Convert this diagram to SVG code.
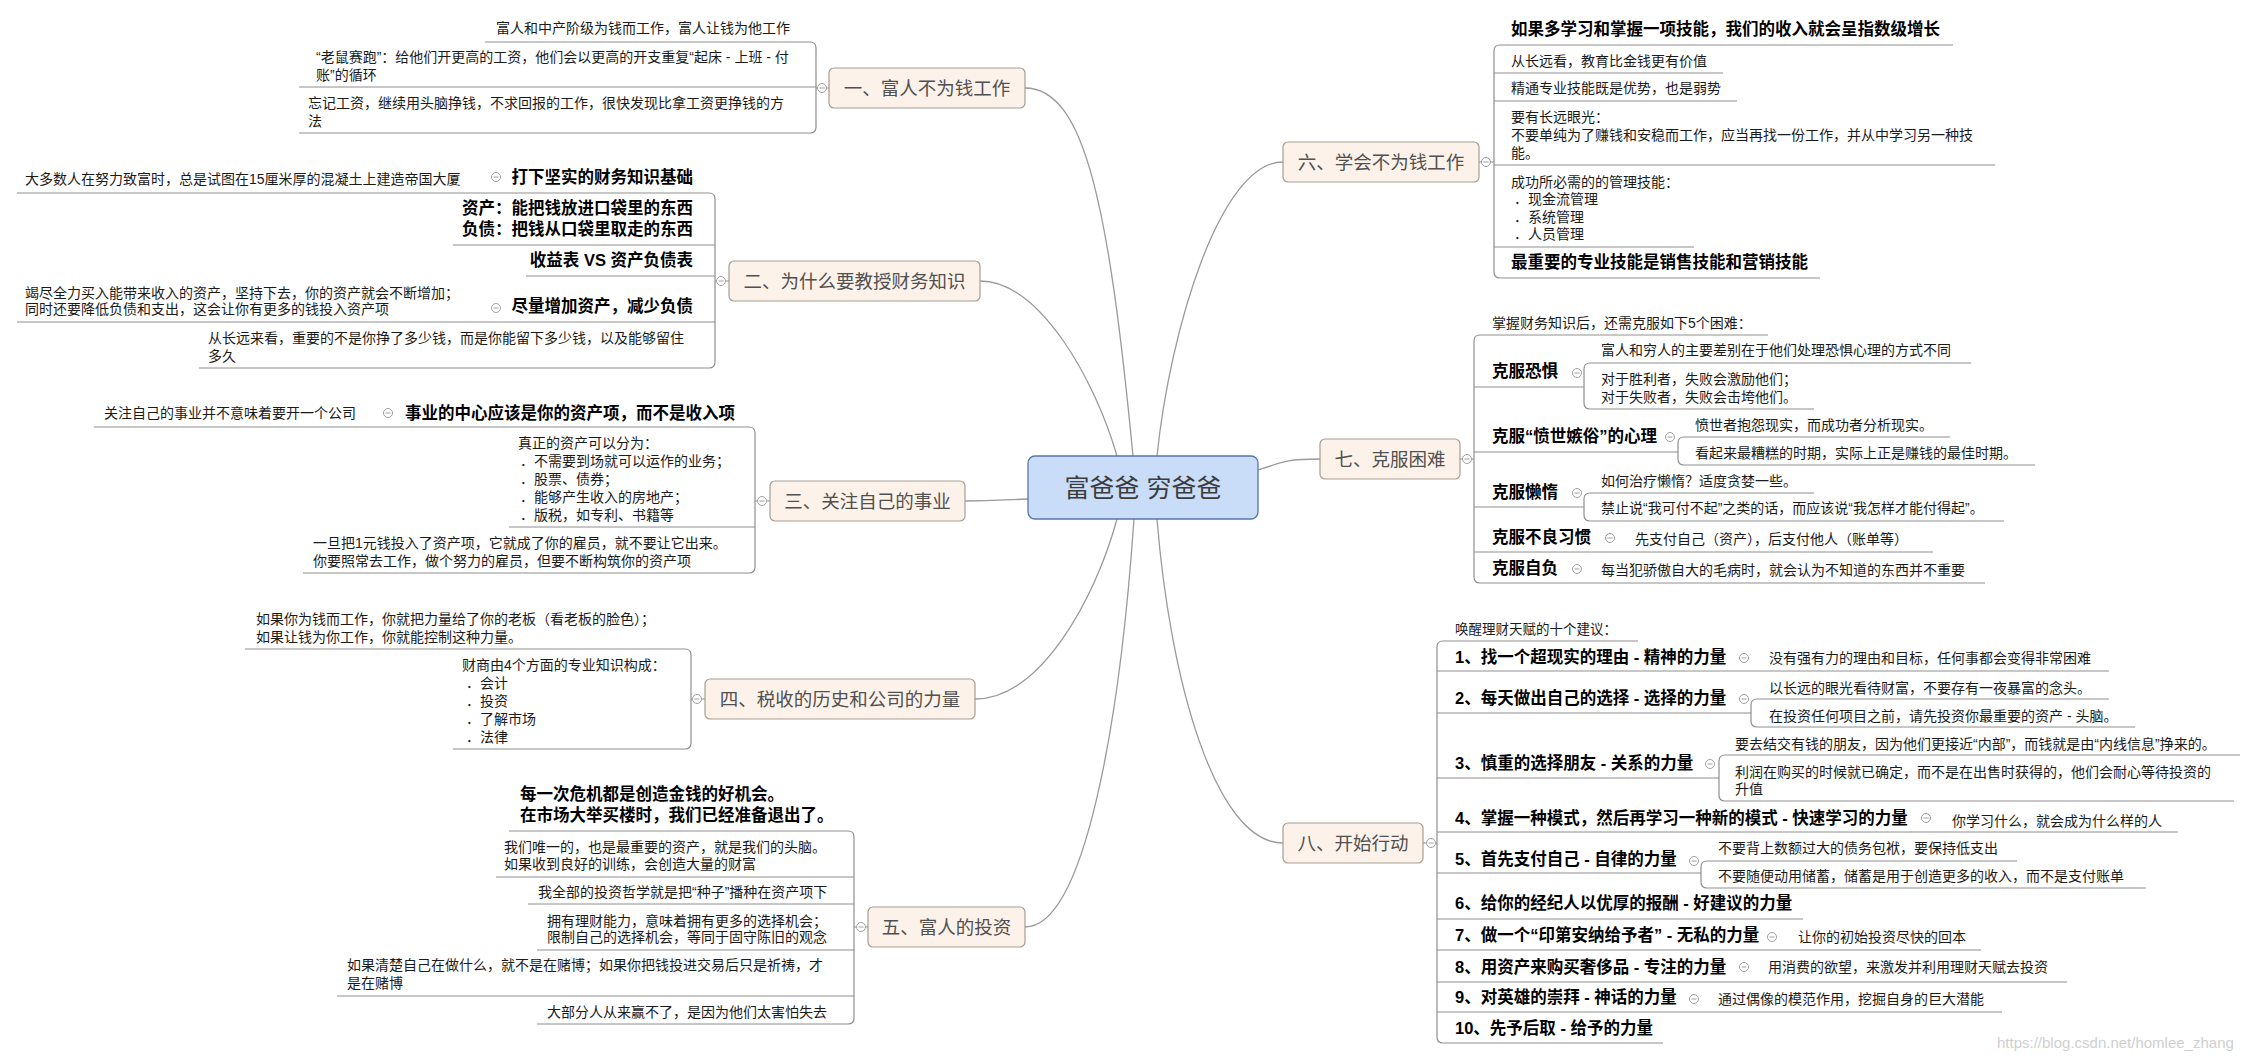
<svg xmlns="http://www.w3.org/2000/svg" width="2255" height="1059" viewBox="0 0 2255 1059">
<style>
text{font-family:"Liberation Sans","Noto Sans CJK SC",sans-serif;dominant-baseline:central}
.t{font-size:14px;fill:#1a1a1a}
.s{font-size:13.5px;fill:#1a1a1a}
.b{font-size:16.5px;font-weight:bold;fill:#000}
.e{text-anchor:end}
.mt{font-size:18.5px;fill:#505050;text-anchor:middle}
.ct{font-size:25px;fill:#3c3c3c;text-anchor:middle}
.mr{fill:#fdf2e9;stroke:#a69d93;stroke-width:1.2}
.cr{fill:#c9dcf8;stroke:#5876a8;stroke-width:1.3}
.c{fill:none;stroke:#9a9a9a;stroke-width:1.3}
.l{fill:none;stroke:#8f8f8f;stroke-width:1.2}
.wm{font-size:15px;fill:#cfcfcf}
</style>
<defs>
<g id="tog"><circle r="4.5" fill="#fff" stroke="#a0a0a0" stroke-width="1"/><path d="M-2.5,0H2.5" stroke="#a0a0a0" stroke-width="1"/></g>
</defs>
<rect width="2255" height="1059" fill="#fff"/>

<g id="connectors">
<path class="c" d="M1133,456 C1109,207 1085,88 1025,88"/>
<path class="c" d="M1117,456 C1095,380 1040,281 980,281"/>
<path class="c" d="M1028,499 C1000,500 995,501 965,501"/>
<path class="c" d="M1117,519 C1095,600 1040,699 975,699"/>
<path class="c" d="M1134,519 C1120,720 1085,927 1025,927"/>
<path class="c" d="M1157,456 C1170,330 1220,162 1283,162"/>
<path class="c" d="M1258,470 C1285,461 1290,459 1320,459"/>
<path class="c" d="M1157,519 C1170,680 1215,843 1283,843"/>

<path class="l" d="M485,42H810Q816,42 816,48V127Q816,133 810,133H299M299,87H816M816,88H818M826.5,88H829"/>
<path class="l" d="M17,193H709Q715,193 715,199V362Q715,368 709,368H199M453,245H715M526,276H715M17,322H715M715,281H716.5M725.5,281H729"/>
<path class="l" d="M94,427H749Q755,427 755,433V567Q755,573 749,573H303M509,527H755M755,501H757.5M766.5,501H770"/>
<path class="l" d="M245,649H685Q691,649 691,655V743Q691,749 685,749H453M691,699H692.5M701.5,699H705"/>
<path class="l" d="M509,831H848Q854,831 854,837V1018Q854,1024 848,1024H537M496,877H854M528,904H854M537,950H854M337,996H854M854,927H856.5M865.5,927H868"/>

<path class="l" d="M1953,45H1500Q1494,45 1494,51V272Q1494,278 1500,278H1820M1494,73H1723M1494,101H1737M1494,165H1995M1494,247H1694M1479,162H1481.5M1490.5,162H1494"/>
<path class="l" d="M1768,335H1480Q1474,335 1474,341V577Q1474,583 1480,583H1985M1474,387H1584M1474,452H1678M1474,507H1584M1474,552H1933M1460,459H1462.5M1471.5,459H1474"/>
<path class="l" d="M1971,363H1590Q1584,363 1584,369V403Q1584,409 1590,409H1814"/>
<path class="l" d="M1950,437H1684Q1678,437 1678,443V459Q1678,465 1684,465H2035"/>
<path class="l" d="M1814,493H1590Q1584,493 1584,499V515Q1584,521 1590,521H2004"/>
<path class="l" d="M1638,641H1443Q1437,641 1437,647V1037Q1437,1043 1443,1043H1663M1437,671H2109M1437,713H1751M1437,778H1719M1437,832H2178M1437,873H1701M1437,919H1803M1437,950H1981M1437,982H2067M1437,1012H2002M1423,843H1426.5M1435.5,843H1437"/>
<path class="l" d="M2109,699H1757Q1751,699 1751,705V721Q1751,727 1757,727H2135"/>
<path class="l" d="M2240,755H1725Q1719,755 1719,761V795Q1719,801 1725,801H2234"/>
<path class="l" d="M2017,861H1707Q1701,861 1701,867V882Q1701,888 1707,888H2146"/>
</g>

<g id="root">
<rect class="cr" x="1028" y="456" width="230" height="63" rx="7"/>
<text class="ct" x="1143" y="488">富爸爸 穷爸爸</text>
</g>

<g id="topic-1">
<rect class="mr" x="829" y="68" width="196" height="40" rx="5"/>
<text class="mt" x="927" y="88">一、富人不为钱工作</text>
<use href="#tog" x="822" y="88"/>
</g>
<g id="t1a"><text class="t" x="496" y="28">富人和中产阶级为钱而工作，富人让钱为他工作</text></g>
<g id="t1b"><text class="t"><tspan x="316" y="57">“老鼠赛跑”：给他们开更高的工资，他们会以更高的开支重复“起床 - 上班 - 付</tspan><tspan x="316" y="75">账”的循环</tspan></text></g>
<g id="t1c"><text class="t"><tspan x="308" y="103">忘记工资，继续用头脑挣钱，不求回报的工作，很快发现比拿工资更挣钱的方</tspan><tspan x="308" y="121">法</tspan></text></g>

<g id="topic-2">
<rect class="mr" x="729" y="261" width="251" height="40" rx="5"/>
<text class="mt" x="854.5" y="281">二、为什么要教授财务知识</text>
<use href="#tog" x="721" y="281"/>
</g>
<g id="t2a"><text class="b e" x="693" y="177">打下坚实的财务知识基础</text><use href="#tog" x="496" y="177"/></g>
<g id="t2a1"><text class="t" x="25" y="179">大多数人在努力致富时，总是试图在15厘米厚的混凝土上建造帝国大厦</text></g>
<g id="t2b"><text class="b e"><tspan x="693" y="208">资产：能把钱放进口袋里的东西</tspan><tspan x="693" y="229">负债：把钱从口袋里取走的东西</tspan></text></g>
<g id="t2c"><text class="b e" x="693" y="260">收益表 VS 资产负债表</text></g>
<g id="t2d"><text class="b e" x="693" y="306">尽量增加资产，减少负债</text><use href="#tog" x="496" y="308"/></g>
<g id="t2d1"><text class="t"><tspan x="25" y="293">竭尽全力买入能带来收入的资产，坚持下去，你的资产就会不断增加；</tspan><tspan x="25" y="309">同时还要降低负债和支出，这会让你有更多的钱投入资产项</tspan></text></g>
<g id="t2e"><text class="t"><tspan x="208" y="338">从长远来看，重要的不是你挣了多少钱，而是你能留下多少钱，以及能够留住</tspan><tspan x="208" y="356">多久</tspan></text></g>

<g id="topic-3">
<rect class="mr" x="770" y="481" width="195" height="40" rx="5"/>
<text class="mt" x="867.5" y="501">三、关注自己的事业</text>
<use href="#tog" x="762" y="501"/>
</g>
<g id="t3a"><text class="b e" x="735" y="413">事业的中心应该是你的资产项，而不是收入项</text><use href="#tog" x="388" y="413"/></g>
<g id="t3a1"><text class="t" x="104" y="413">关注自己的事业并不意味着要开一个公司</text></g>
<g id="t3b"><text class="t"><tspan x="518" y="443">真正的资产可以分为：</tspan><tspan x="520" y="461">．不需要到场就可以运作的业务；</tspan><tspan x="520" y="479">．股票、债券；</tspan><tspan x="520" y="497">．能够产生收入的房地产；</tspan><tspan x="520" y="515">．版税，如专利、书籍等</tspan></text></g>
<g id="t3c"><text class="t"><tspan x="313" y="543">一旦把1元钱投入了资产项，它就成了你的雇员，就不要让它出来。</tspan><tspan x="313" y="561">你要照常去工作，做个努力的雇员，但要不断构筑你的资产项</tspan></text></g>

<g id="topic-4">
<rect class="mr" x="705" y="679" width="270" height="40" rx="5"/>
<text class="mt" x="840" y="699">四、税收的历史和公司的力量</text>
<use href="#tog" x="697" y="699"/>
</g>
<g id="t4a"><text class="t"><tspan x="256" y="619">如果你为钱而工作，你就把力量给了你的老板（看老板的脸色）；</tspan><tspan x="256" y="637">如果让钱为你工作，你就能控制这种力量。</tspan></text></g>
<g id="t4b"><text class="t"><tspan x="462" y="665">财商由4个方面的专业知识构成：</tspan><tspan x="466" y="683">．会计</tspan><tspan x="466" y="701">．投资</tspan><tspan x="466" y="719">．了解市场</tspan><tspan x="466" y="737">．法律</tspan></text></g>

<g id="topic-5">
<rect class="mr" x="868" y="907" width="157" height="40" rx="5"/>
<text class="mt" x="946.5" y="927">五、富人的投资</text>
<use href="#tog" x="861" y="927"/>
</g>
<g id="t5a"><text class="b"><tspan x="520" y="794">每一次危机都是创造金钱的好机会。</tspan><tspan x="520" y="815">在市场大举买楼时，我们已经准备退出了。</tspan></text></g>
<g id="t5b"><text class="t"><tspan x="504" y="847">我们唯一的，也是最重要的资产，就是我们的头脑。</tspan><tspan x="504" y="864">如果收到良好的训练，会创造大量的财富</tspan></text></g>
<g id="t5c"><text class="t" x="538" y="892">我全部的投资哲学就是把“种子”播种在资产项下</text></g>
<g id="t5d"><text class="t"><tspan x="547" y="921">拥有理财能力，意味着拥有更多的选择机会；</tspan><tspan x="547" y="937">限制自己的选择机会，等同于固守陈旧的观念</tspan></text></g>
<g id="t5e"><text class="t"><tspan x="347" y="965">如果清楚自己在做什么，就不是在赌博；如果你把钱投进交易后只是祈祷，才</tspan><tspan x="347" y="983">是在赌博</tspan></text></g>
<g id="t5f"><text class="t" x="547" y="1012">大部分人从来赢不了，是因为他们太害怕失去</text></g>

<g id="topic-6">
<rect class="mr" x="1283" y="142" width="196" height="40" rx="5"/>
<text class="mt" x="1381" y="162">六、学会不为钱工作</text>
<use href="#tog" x="1486" y="162"/>
</g>
<g id="t6a"><text class="b" x="1511" y="29">如果多学习和掌握一项技能，我们的收入就会呈指数级增长</text></g>
<g id="t6b"><text class="t" x="1511" y="61">从长远看，教育比金钱更有价值</text></g>
<g id="t6c"><text class="t" x="1511" y="88">精通专业技能既是优势，也是弱势</text></g>
<g id="t6d"><text class="t"><tspan x="1511" y="117">要有长远眼光：</tspan><tspan x="1511" y="135">不要单纯为了赚钱和安稳而工作，应当再找一份工作，并从中学习另一种技</tspan><tspan x="1511" y="153">能。</tspan></text></g>
<g id="t6e"><text class="t"><tspan x="1511" y="182">成功所必需的的管理技能：</tspan><tspan x="1514" y="199">．现金流管理</tspan><tspan x="1514" y="217">．系统管理</tspan><tspan x="1514" y="234">．人员管理</tspan></text></g>
<g id="t6f"><text class="b" x="1511" y="262">最重要的专业技能是销售技能和营销技能</text></g>

<g id="topic-7">
<rect class="mr" x="1320" y="439" width="140" height="40" rx="5"/>
<text class="mt" x="1390" y="459">七、克服困难</text>
<use href="#tog" x="1467" y="459"/>
</g>
<g id="t7a"><text class="t" x="1492" y="323">掌握财务知识后，还需克服如下5个困难：</text></g>
<g id="t7b"><text class="b" x="1492" y="371">克服恐惧</text><use href="#tog" x="1577" y="373"/></g>
<g id="t7b1"><text class="t" x="1601" y="350">富人和穷人的主要差别在于他们处理恐惧心理的方式不同</text></g>
<g id="t7b2"><text class="t"><tspan x="1601" y="379">对于胜利者，失败会激励他们；</tspan><tspan x="1601" y="397">对于失败者，失败会击垮他们。</tspan></text></g>
<g id="t7c"><text class="b" x="1492" y="436">克服“愤世嫉俗”的心理</text><use href="#tog" x="1670" y="437"/></g>
<g id="t7c1"><text class="t" x="1695" y="425">愤世者抱怨现实，而成功者分析现实。</text></g>
<g id="t7c2"><text class="t" x="1695" y="453">看起来最糟糕的时期，实际上正是赚钱的最佳时期。</text></g>
<g id="t7d"><text class="b" x="1492" y="492">克服懒惰</text><use href="#tog" x="1577" y="493"/></g>
<g id="t7d1"><text class="t" x="1601" y="481">如何治疗懒惰？适度贪婪一些。</text></g>
<g id="t7d2"><text class="t" x="1601" y="508">禁止说“我可付不起”之类的话，而应该说“我怎样才能付得起”。</text></g>
<g id="t7e"><text class="b" x="1492" y="537">克服不良习惯</text><use href="#tog" x="1610" y="538"/></g>
<g id="t7e1"><text class="t" x="1635" y="539">先支付自己（资产），后支付他人（账单等）</text></g>
<g id="t7f"><text class="b" x="1492" y="568">克服自负</text><use href="#tog" x="1577" y="569"/></g>
<g id="t7f1"><text class="t" x="1601" y="570">每当犯骄傲自大的毛病时，就会认为不知道的东西并不重要</text></g>

<g id="topic-8">
<rect class="mr" x="1283" y="823" width="140" height="40" rx="5"/>
<text class="mt" x="1353" y="843">八、开始行动</text>
<use href="#tog" x="1431" y="843"/>
</g>
<g id="t8a"><text class="s" x="1455" y="629">唤醒理财天赋的十个建议：</text></g>
<g id="t8b"><text class="b" x="1455" y="657">1、找一个超现实的理由 - 精神的力量</text><use href="#tog" x="1744" y="658"/></g>
<g id="t8b1"><text class="t" x="1769" y="658">没有强有力的理由和目标，任何事都会变得非常困难</text></g>
<g id="t8c"><text class="b" x="1455" y="698">2、每天做出自己的选择 - 选择的力量</text><use href="#tog" x="1744" y="699"/></g>
<g id="t8c1"><text class="t" x="1769" y="688">以长远的眼光看待财富，不要存有一夜暴富的念头。</text></g>
<g id="t8c2"><text class="t" x="1769" y="716">在投资任何项目之前，请先投资你最重要的资产 - 头脑。</text></g>
<g id="t8d"><text class="b" x="1455" y="763">3、慎重的选择朋友 - 关系的力量</text><use href="#tog" x="1710" y="764"/></g>
<g id="t8d1"><text class="t" x="1735" y="744">要去结交有钱的朋友，因为他们更接近“内部”，而钱就是由“内线信息”挣来的。</text></g>
<g id="t8d2"><text class="t"><tspan x="1735" y="772">利润在购买的时候就已确定，而不是在出售时获得的，他们会耐心等待投资的</tspan><tspan x="1735" y="789">升值</tspan></text></g>
<g id="t8e"><text class="b" x="1455" y="818">4、掌握一种模式，然后再学习一种新的模式 - 快速学习的力量</text><use href="#tog" x="1926" y="818"/></g>
<g id="t8e1"><text class="t" x="1952" y="821">你学习什么，就会成为什么样的人</text></g>
<g id="t8f"><text class="b" x="1455" y="859">5、首先支付自己 - 自律的力量</text><use href="#tog" x="1694" y="861"/></g>
<g id="t8f1"><text class="t" x="1718" y="848">不要背上数额过大的债务包袱，要保持低支出</text></g>
<g id="t8f2"><text class="t" x="1718" y="876">不要随便动用储蓄，储蓄是用于创造更多的收入，而不是支付账单</text></g>
<g id="t8g"><text class="b" x="1455" y="903">6、给你的经纪人以优厚的报酬 - 好建议的力量</text></g>
<g id="t8h"><text class="b" x="1455" y="935">7、做一个“印第安纳给予者” - 无私的力量</text><use href="#tog" x="1772" y="937"/></g>
<g id="t8h1"><text class="t" x="1798" y="937">让你的初始投资尽快的回本</text></g>
<g id="t8i"><text class="b" x="1455" y="967">8、用资产来购买奢侈品 - 专注的力量</text><use href="#tog" x="1744" y="967"/></g>
<g id="t8i1"><text class="t" x="1768" y="967">用消费的欲望，来激发并利用理财天赋去投资</text></g>
<g id="t8j"><text class="b" x="1455" y="997">9、对英雄的崇拜 - 神话的力量</text><use href="#tog" x="1694" y="999"/></g>
<g id="t8j1"><text class="t" x="1718" y="999">通过偶像的模范作用，挖掘自身的巨大潜能</text></g>
<g id="t8k"><text class="b" x="1455" y="1028">10、先予后取 - 给予的力量</text></g>

<text class="wm" x="1997" y="1042">https://blog.csdn.net/homlee_zhang</text>
</svg>
